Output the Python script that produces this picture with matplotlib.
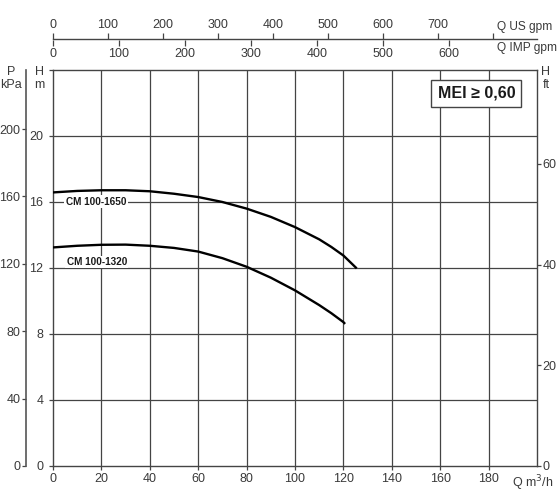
import numpy as np
import matplotlib.pyplot as plt

# Curvas (Q em m3/h, H em m)
q_1650 = [0, 10, 20, 30, 40, 50, 60, 70, 80, 90, 100, 110, 115, 120, 125.5]
h_1650 = [16.56, 16.65, 16.69, 16.69, 16.63, 16.48, 16.28, 15.98, 15.58, 15.08, 14.46, 13.72, 13.26, 12.74, 11.96]
q_1320 = [0, 10, 20, 30, 40, 50, 60, 70, 80, 90, 100, 110, 115, 120, 120.7]
h_1320 = [13.23, 13.33, 13.39, 13.40, 13.33, 13.2, 12.98, 12.58, 12.06, 11.4, 10.63, 9.74, 9.25, 8.71, 8.6]

q_ticks = [0, 20, 40, 60, 80, 100, 120, 140, 160, 180]
h_ticks = [0, 4, 8, 12, 16, 20]
p_ticks = [0, 40, 80, 120, 160, 200]
ft_ticks = [0, 20, 40, 60]
us_ticks = [0, 100, 200, 300, 400, 500, 600, 700, 800]
imp_ticks = [0, 100, 200, 300, 400, 500, 600]

KPA_POR_M = 9.80665
FT_POR_M = 3.28084
US_POR_M3H = 4.402868
IMP_POR_M3H = 3.666154

plt.rcParams['font.family'] = ['Liberation Sans', 'DejaVu Sans']
cor_txt = '#3a3a3a'
cor_grid = '#444444'

fig = plt.figure(figsize=(5.6, 5.04), dpi=100)
W, H = 560, 504
ax = fig.add_axes([53 / W, 1 - 466 / H, 484 / W, (466 - 69.5) / H])
ax.set_xlim(0, 200)
ax.set_ylim(0, 24)

for s in ax.spines.values():
    s.set_color(cor_grid)
    s.set_linewidth(1.0)

ax.set_xticks(q_ticks)
ax.set_yticks(h_ticks + [24])
ax.set_yticklabels([str(t) for t in h_ticks] + [''])
ax.tick_params(axis='both', colors=cor_grid, labelcolor=cor_txt, labelsize=9,
               length=3, width=0.9, direction='out', pad=2)
ax.tick_params(axis='y', pad=4)
for q in q_ticks[1:]:
    ax.axvline(q, color=cor_grid, lw=0.9, zorder=1)
for h in h_ticks[1:]:
    ax.axhline(h, color=cor_grid, lw=0.9, zorder=1)

ax.plot(q_1650, h_1650, color='black', lw=1.7, zorder=3, solid_capstyle='butt',
        solid_joinstyle='round')
ax.plot(q_1320, h_1320, color='black', lw=1.7, zorder=3, solid_capstyle='butt',
        solid_joinstyle='round')

bbox_lbl = dict(facecolor='white', edgecolor='none', pad=1.0)
ax.text(5.3, 16.0, 'CM 100-1650', fontsize=7.2, fontweight='bold', color='#1a1a1a',
        ha='left', va='center', bbox=bbox_lbl, zorder=4)
ax.text(5.6, 12.35, 'CM 100-1320', fontsize=7.2, fontweight='bold', color='#1a1a1a',
        ha='left', va='center', bbox=bbox_lbl, zorder=4)

ax.text(0.955, 0.94, 'MEI ≥ 0,60', transform=ax.transAxes, fontsize=11.5,
        fontweight='bold', color='#1a1a1a', ha='right', va='center',
        bbox=dict(facecolor='white', edgecolor=cor_grid, lw=1.0, pad=4.5), zorder=5)

ax.text(198, -1.05, 'Q m$^3$/h', fontsize=9, color=cor_txt, ha='center', va='center',
        clip_on=False)

# Eixo da direita em pés
ax_ft = ax.secondary_yaxis('right', functions=(lambda m: m * FT_POR_M, lambda f: f / FT_POR_M))
ax_ft.set_yticks(ft_ticks)
ax_ft.tick_params(colors=cor_grid, labelcolor=cor_txt, labelsize=9, length=3,
                  width=0.9, pad=1)
ax_ft.spines['right'].set_visible(False)

# Eixo da pressão à esquerda
ax_p = ax.secondary_yaxis(-27 / 484, functions=(lambda m: m * KPA_POR_M, lambda p: p / KPA_POR_M))
ax_p.set_yticks(p_ticks)
ax_p.tick_params(colors=cor_grid, labelcolor=cor_txt, labelsize=9, length=3,
                 width=0.9, pad=1)
ax_p.spines['left'].set_color('#555555')
ax_p.spines['left'].set_linewidth(1.2)

# cabeçalhos dos eixos
def fig_txt(x, y, s, **kw):
    fig.text(x / W, 1 - y / H, s, fontsize=9, color=cor_txt, ha='center', va='center', **kw)

fig_txt(11, 72, 'P')
fig_txt(11, 85, 'kPa')
fig_txt(39, 72, 'H')
fig_txt(39, 85, 'm')
fig_txt(546, 72, 'H')
fig_txt(546, 85, 'ft')

# Eixo superior com vazões em gpm
ax_us = fig.add_axes([53 / W, 1 - 39.5 / H, 484 / W, 0.0001])
ax_us.set_xlim(0, 200 * US_POR_M3H)
ax_us.yaxis.set_visible(False)
for k in ['left', 'right', 'bottom']:
    ax_us.spines[k].set_visible(False)
ax_us.spines['top'].set_color(cor_grid)
ax_us.spines['top'].set_linewidth(1.0)
ax_us.xaxis.tick_top()
ax_us.set_xticks(us_ticks)
ax_us.set_xticklabels([str(t) for t in us_ticks[:-1]] + [''])
ax_us.tick_params(axis='x', colors=cor_grid, labelcolor=cor_txt, labelsize=9,
                  length=4, width=0.9, pad=2)

ax_imp = ax_us.secondary_xaxis('bottom', functions=(lambda u: u * IMP_POR_M3H / US_POR_M3H,
                                                    lambda i: i * US_POR_M3H / IMP_POR_M3H))
ax_imp.set_xticks(imp_ticks)
ax_imp.tick_params(colors=cor_grid, labelcolor=cor_txt, labelsize=9, length=4,
                   width=0.9, pad=2)
ax_imp.spines['bottom'].set_visible(False)

fig.text(497 / W, 1 - 27 / H, 'Q US gpm', fontsize=8.6, color=cor_txt, ha='left', va='center')
fig.text(497 / W, 1 - 48 / H, 'Q IMP gpm', fontsize=8.6, color=cor_txt, ha='left', va='center')

fig.savefig('out.png', dpi=100)
